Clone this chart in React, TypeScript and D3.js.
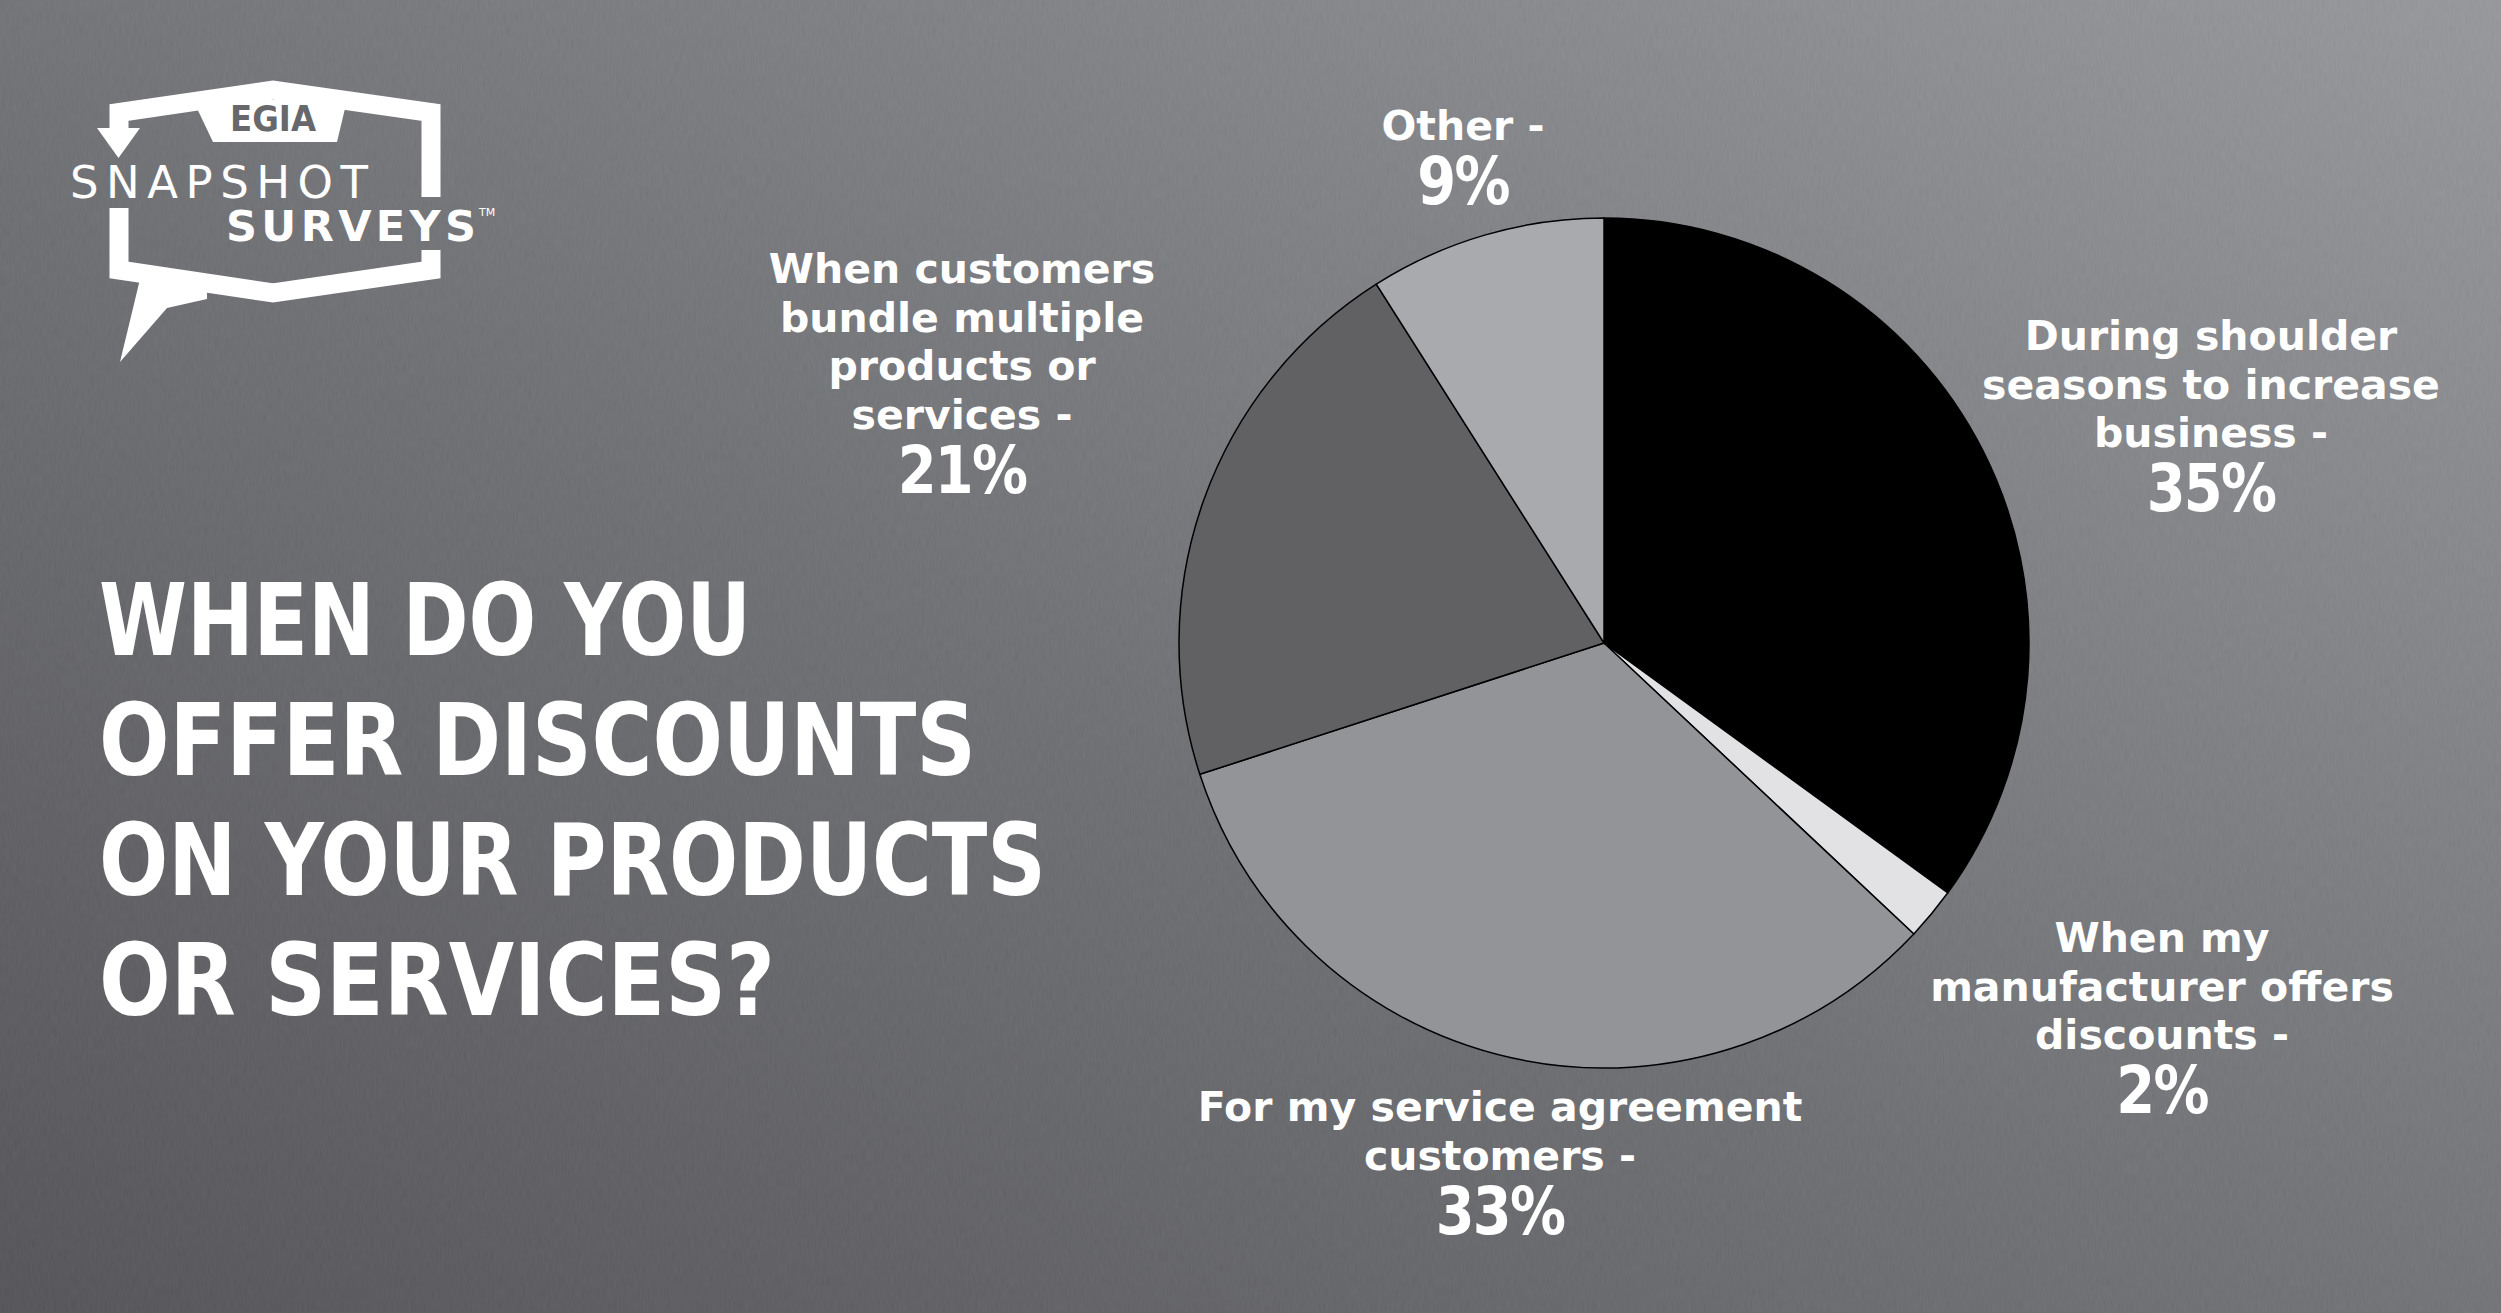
import React from "react";
import * as d3 from "d3";

const W = 2501;
const H = 1313;

// ---- data ----
const categories = [
  "During shoulder seasons to increase business",
  "When my manufacturer offers discounts",
  "For my service agreement customers",
  "When customers bundle multiple products or services",
  "Other",
];
const values = [35, 2, 33, 21, 9];
const labelLines = [
  ["During shoulder", "seasons to increase", "business -"],
  ["When my", "manufacturer offers", "discounts -"],
  ["For my service agreement", "customers -"],
  ["When customers", "bundle multiple", "products or", "services -"],
  ["Other -"],
];
const titleLines = ["WHEN DO YOU", "OFFER DISCOUNTS", "ON YOUR PRODUCTS", "OR SERVICES?"];

// ---- styling / layout ----
const sliceColors = ["#000000", "#e2e2e4", "#939498", "#616164", "#a9aaae"];
const labelAnchors = [
  { x: 2211, y: 350 },
  { x: 2162, y: 952 },
  { x: 1500, y: 1121 },
  { x: 962, y: 283 },
  { x: 1463, y: 140 },
];
const titleWidths = [652, 877, 947, 676];
const PIE_CX = 1604;
const PIE_CY = 643;
const PIE_R = 425;
const LINE_H = 48.5;
const PCT_GAP = 64;

const labelFont = "'DejaVu Sans', sans-serif";
const titleFont = "'DejaVu Sans Condensed', 'DejaVu Sans', sans-serif";

export default function App() {
  const pie = d3
    .pie<number>()
    .sort(null)
    .value((d) => d)
    .startAngle(0)
    .endAngle(2 * Math.PI);
  const arcs = pie(values);
  const arc = d3.arc<d3.PieArcDatum<number>>().innerRadius(0).outerRadius(PIE_R);

  return (
    <div style={{ position: "absolute", left: 0, top: 0, width: W, height: H }}>
      <svg width={W} height={H} viewBox={`0 0 ${W} ${H}`} style={{ display: "block" }}>
        <defs>
          <linearGradient id="bg" x1="0" y1="1" x2="1" y2="0">
            <stop offset="0" stopColor="#515155" />
            <stop offset="0.45" stopColor="#6c6d71" />
            <stop offset="1" stopColor="#95969a" />
          </linearGradient>
          <filter id="weave" x="0" y="0" width="100%" height="100%">
            <feTurbulence type="fractalNoise" baseFrequency="0.6 0.08" numOctaves="2" seed="3" result="n1" />
            <feColorMatrix type="saturate" values="0" in="n1" />
            <feComponentTransfer>
              <feFuncA type="linear" slope="0" intercept="0.07" />
            </feComponentTransfer>
          </filter>
        </defs>
        <rect x={0} y={0} width={W} height={H} fill="url(#bg)" />
        <rect x={0} y={0} width={W} height={H} filter="url(#weave)" />

        {/* logo */}
        <g>
          <g fill="none" stroke="#ffffff" strokeWidth={19} strokeLinejoin="miter">
            <path d="M119,132 L119,112.5 L273,90 L431,112.5 L431,197" />
            <path d="M119,208 L119,270 L273,293 L431,270 L431,250" />
          </g>
          <polygon points="97,128 140,128 118.5,158" fill="#ffffff" />
          <polygon points="193,100 347,100 337,142 213,142" fill="#ffffff" />
          <polygon points="141,275 120,362 167,308 207,299 207,275" fill="#ffffff" />
          <text
            x={273}
            y={131}
            textAnchor="middle"
            fontFamily={titleFont}
            fontStretch="condensed"
            fontWeight={700}
            fontSize={35}
            fill="#67686c"
            textLength={86}
            lengthAdjust="spacingAndGlyphs"
          >
            EGIA
          </text>
          <text
            x={70}
            y={198}
            fontFamily={labelFont}
            fontWeight={400}
            fontSize={45}
            fill="#ffffff"
            textLength={298}
            lengthAdjust="spacing"
          >
            SNAPSHOT
          </text>
          <text
            x={226}
            y={241}
            fontFamily={labelFont}
            fontWeight={700}
            fontSize={43}
            fill="#ffffff"
            textLength={250}
            lengthAdjust="spacing"
          >
            SURVEYS
          </text>
          <text x={479} y={216} fontFamily={labelFont} fontSize={11} fill="#ffffff">
            TM
          </text>
        </g>

        {/* title */}
        <g fill="#ffffff" fontFamily={titleFont} fontStretch="condensed" fontWeight={700} fontSize={100}>
          {titleLines.map((t, i) => (
            <text
              key={t}
              x={99}
              y={655 + i * 120}
              textLength={titleWidths[i]}
              lengthAdjust="spacingAndGlyphs"
            >
              {t}
            </text>
          ))}
        </g>

        {/* pie */}
        <g transform={`translate(${PIE_CX},${PIE_CY})`}>
          {arcs.map((a, i) => (
            <path
              key={categories[i]}
              d={arc(a) || ""}
              fill={sliceColors[i]}
              stroke="#000000"
              strokeWidth={1.5}
            />
          ))}
        </g>

        {/* labels */}
        <g fill="#ffffff" fontFamily={labelFont} fontWeight={700} textAnchor="middle">
          {labelLines.map((lines, i) => {
            const a = labelAnchors[i];
            const py = a.y + (lines.length - 1) * LINE_H + PCT_GAP;
            return (
              <g key={categories[i]}>
                {lines.map((ln, j) => (
                  <text key={j} x={a.x} y={a.y + j * LINE_H} fontSize={41}>
                    {ln}
                  </text>
                ))}
                <text
                  transform={`translate(${a.x},${py}) scale(0.86,1)`}
                  x={0}
                  y={0}
                  fontSize={65}
                  letterSpacing={-2}
                >
                  {`${values[i]}%`}
                </text>
              </g>
            );
          })}
        </g>
      </svg>
    </div>
  );
}
